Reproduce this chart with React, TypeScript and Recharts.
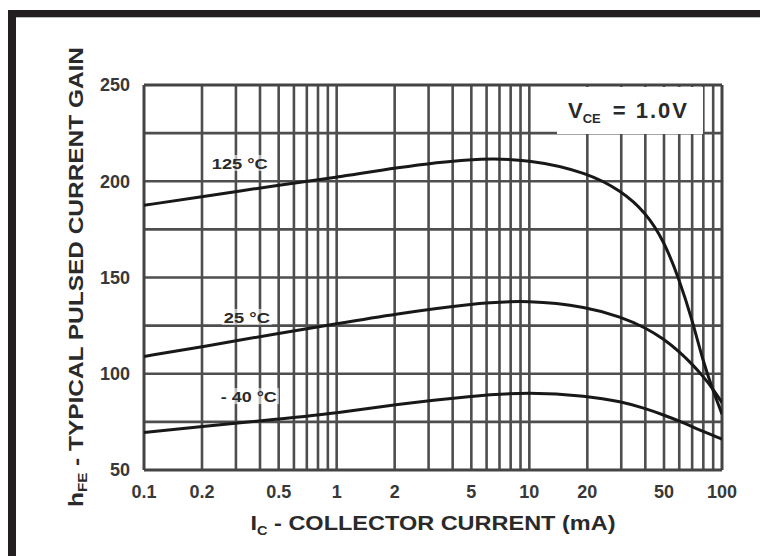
import { LineChart, Line, XAxis, YAxis, ReferenceLine, ReferenceDot } from "recharts";

// collector current (mA) at which each curve was read
const CURRENT_MA = [0.1, 0.2, 0.5, 1, 2, 5, 10, 20, 30, 40, 50, 60, 70, 80, 90, 100];
const GAIN_125C = [187.5, 192, 198, 202, 207, 212, 211.5, 204.5, 195, 184, 169, 149, 128, 106, 91, 79];
const GAIN_25C = [109, 114, 121, 126, 131, 136.5, 138.3, 134.7, 129.5, 124, 118, 111.5, 105, 98.5, 92, 85];
const GAIN_M40C = [69.5, 72.5, 76.5, 79.5, 84, 88.5, 90.5, 88.5, 85.5, 82, 78.5, 75.5, 72.5, 70, 68, 66];

const X_TICKS = [0.1, 0.2, 0.5, 1, 2, 5, 10, 20, 50, 100];
const Y_TICKS = [50, 100, 150, 200, 250];
const X_GRID = [
  0.2, 0.3, 0.4, 0.5, 0.6, 0.7, 0.8, 0.9, 1, 2, 3, 4, 5, 6, 7, 8, 9, 10, 20, 30, 40, 50, 60, 70, 80, 90,
];
const Y_GRID = [75, 100, 125, 150, 175, 200, 225];

const SERIES = [
  { name: "125 °C", values: GAIN_125C },
  { name: "25 °C", values: GAIN_25C },
  { name: "- 40 °C", values: GAIN_M40C },
];

// label anchors (data coords)
const CURVE_LABELS = [
  { text: "125 °C", ic: 0.314, gain: 209.5, w: 56 },
  { text: "25 °C", ic: 0.342, gain: 129.5, w: 46 },
  { text: "- 40 °C", ic: 0.35, gain: 88.4, w: 56 },
];

const FONT = "'Liberation Sans', Arial, Helvetica, sans-serif";
const GRID = "#4e4e4e";
const INK = "#181818";

function XTitle() {
  return (
    <text
      x={433}
      y={530}
      textAnchor="middle"
      textLength={365}
      lengthAdjust="spacingAndGlyphs"
      fill="#2a2a2a"
      fontFamily={FONT}
      fontWeight={700}
      fontSize={21}
    >
      I
      <tspan fontSize={13} dy={5}>
        C
      </tspan>
      <tspan dy={-5}> - COLLECTOR CURRENT  (mA)</tspan>
    </text>
  );
}

function YTitle() {
  return (
    <text
      x={0}
      y={0}
      transform="translate(83 277) rotate(-90)"
      textAnchor="middle"
      textLength={460}
      lengthAdjust="spacingAndGlyphs"
      fill="#2a2a2a"
      fontFamily={FONT}
      fontWeight={700}
      fontSize={21}
    >
      h
      <tspan fontSize={13} dy={4}>
        FE
      </tspan>
      <tspan dy={-4}> - TYPICAL PULSED CURRENT GAIN</tspan>
    </text>
  );
}

function CurveLabel(props: any) {
  const { cx, cy, text, w } = props;
  return (
    <g>
      <rect x={cx - w / 2 - 2} y={cy - 8} width={w + 4} height={16} fill="#fff" fillOpacity={0.6} />
      <text
        x={cx}
        y={cy + 6}
        textAnchor="middle"
        textLength={w}
        lengthAdjust="spacingAndGlyphs"
        fill="#2a2a2a"
        fontFamily={FONT}
        fontWeight={700}
        fontSize={15}
      >
        {text}
      </text>
    </g>
  );
}

export default function App() {
  const dataFor = (vals: number[]) => CURRENT_MA.map((ic, i) => ({ ic, gain: vals[i] }));
  const tickStyle = { fill: "#383838", fontSize: 18, fontWeight: 700, fontFamily: FONT };

  return (
    <div style={{ position: "absolute", left: 0, top: 0, width: 760, height: 556, background: "#fff" }}>
      <LineChart
        width={760}
        height={556}
        margin={{ top: 85, right: 38, bottom: 56, left: 84 }}
        style={{ position: "absolute", left: 0, top: 0 }}
      >
        <XAxis
          dataKey="ic"
          type="number"
          scale="log"
          domain={[0.1, 100]}
          ticks={X_TICKS}
          interval={0}
          allowDataOverflow
          axisLine={false}
          tickLine={false}
          tickSize={0}
          tickMargin={15}
          height={30}
          tick={tickStyle}
          tickFormatter={(v) => String(v)}
          label={XTitle}
        />
        <YAxis
          type="number"
          domain={[50, 250]}
          ticks={Y_TICKS}
          interval={0}
          allowDataOverflow
          axisLine={false}
          tickLine={false}
          tickSize={0}
          tickMargin={14}
          width={60}
          tick={tickStyle}
          label={YTitle}
        />
        {X_GRID.map((v) => (
          <ReferenceLine key={"gx" + v} x={v} stroke={GRID} strokeWidth={2.6} />
        ))}
        {Y_GRID.map((v) => (
          <ReferenceLine key={"gy" + v} y={v} stroke={GRID} strokeWidth={2.6} />
        ))}
        <ReferenceLine x={0.1} stroke="#444" strokeWidth={3} />
        <ReferenceLine x={100} stroke="#444" strokeWidth={3} />
        <ReferenceLine y={50} stroke="#444" strokeWidth={3} />
        <ReferenceLine y={250} stroke="#444" strokeWidth={3} />
        {SERIES.map((s) => (
          <Line
            key={s.name}
            name={s.name}
            data={dataFor(s.values)}
            dataKey="gain"
            type="basis"
            stroke={INK}
            strokeWidth={3}
            dot={false}
            isAnimationActive={false}
          />
        ))}
        {CURVE_LABELS.map((l) => (
          <ReferenceDot
            key={l.text}
            x={l.ic}
            y={l.gain}
            r={0}
            shape={(p: any) => <CurveLabel {...p} text={l.text} w={l.w} />}
          />
        ))}
      </LineChart>

      {/* V_CE condition box */}
      <div
        style={{
          position: "absolute",
          left: 557,
          top: 87,
          width: 146,
          height: 47,
          background: "#fff",
          fontFamily: FONT,
          fontWeight: 700,
          fontSize: 22,
          color: "#2a2a2a",
          lineHeight: "47px",
          paddingLeft: 11,
          boxSizing: "border-box",
          whiteSpace: "nowrap",
        }}
      >
        V<span style={{ fontSize: 13, verticalAlign: -5 }}>CE</span>
        <span style={{ marginLeft: 12, letterSpacing: 2 }}>= 1.0V</span>
      </div>

      {/* scan frame */}
      <div style={{ position: "absolute", left: 8, top: 10, width: 752, height: 7, background: "#231f20" }} />
      <div style={{ position: "absolute", left: 8, top: 10, width: 8, height: 546, background: "#231f20" }} />
      <div style={{ position: "absolute", left: 16, top: 17, width: 744, height: 1, background: "#bdbdbd" }} />
    </div>
  );
}
